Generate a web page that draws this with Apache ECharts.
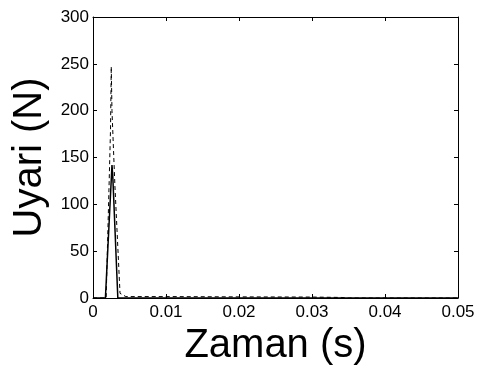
<!DOCTYPE html>
<html><head><meta charset="utf-8">
<script src="https://cdn.jsdelivr.net/npm/echarts@6/dist/echarts.min.js"></script>
<style>html,body{margin:0;padding:0;background:#fff}#c{width:479px;height:365px}</style>
</head><body><div id="c"></div>
<script>
// time (s) and force (N)
const solidT = [0, 0.0017, 0.0026, 0.0027, 0.0034, 0.05];
const solidV = [0, 0, 142, 132, 0, 0];
const dashT = [0, 0.0018, 0.0024, 0.0025, 0.0026, 0.0030, 0.0037, 0.0045, 0.010, 0.020, 0.030, 0.034, 0.035, 0.05];
const dashV = [0, 0, 180, 247, 200, 120, 5, 1.5, 1.5, 1.2, 1.0, 0.6, 0, 0];
const xTicks = [0, 0.01, 0.02, 0.03, 0.04, 0.05];
const yTicks = [0, 50, 100, 150, 200, 250, 300];

const pair = (t, v) => t.map((x, i) => [x, v[i]]);
const font = 'Liberation Sans, Arial, sans-serif';
const chart = echarts.init(document.getElementById('c'));
const tickLabel = {color: '#000', fontSize: 17, fontFamily: font};
const line = {show: true, onZero: false, lineStyle: {color: '#000', width: 1}};
const tick = {show: true, inside: true, length: 4, lineStyle: {color: '#000'}};
chart.setOption({
  animation: false,
  grid: {left: 93, right: 21, top: 17, bottom: 67, show: false,
         containLabel: false, outerBoundsMode: 'none'},
  xAxis: [{
    type: 'value', min: 0, max: 0.05, interval: 0.01, position: 'bottom',
    name: 'Zaman (s)', nameLocation: 'middle', nameGap: 27,
    nameTextStyle: {color: '#000', fontSize: 40, fontFamily: font},
    axisLine: line, splitLine: {show: false}, axisTick: tick,
    axisLabel: Object.assign({margin: 6, formatter: v => String(+v.toFixed(2))}, tickLabel)
  }, {
    type: 'value', min: 0, max: 0.05, interval: 0.01, position: 'top',
    axisLine: line, splitLine: {show: false}, axisLabel: {show: false}, axisTick: tick
  }],
  yAxis: [{
    type: 'value', min: 0, max: 300, interval: 50, position: 'left',
    name: 'Uyari (N)', nameLocation: 'middle', nameGap: 43, nameRotate: 90,
    nameTextStyle: {color: '#000', fontSize: 40, fontFamily: font},
    axisLine: line, splitLine: {show: false}, axisTick: tick,
    axisLabel: Object.assign({margin: 4}, tickLabel)
  }, {
    type: 'value', min: 0, max: 300, interval: 50, position: 'right',
    axisLine: line, splitLine: {show: false}, axisLabel: {show: false}, axisTick: tick
  }],
  series: [{
    type: 'line', data: pair(dashT, dashV), symbol: 'none',
    lineStyle: {color: '#000', width: 1, type: [4, 3]}
  }, {
    type: 'line', data: pair(solidT, solidV), symbol: 'none',
    lineStyle: {color: '#000', width: 1.5}
  }]
});
</script></body></html>
